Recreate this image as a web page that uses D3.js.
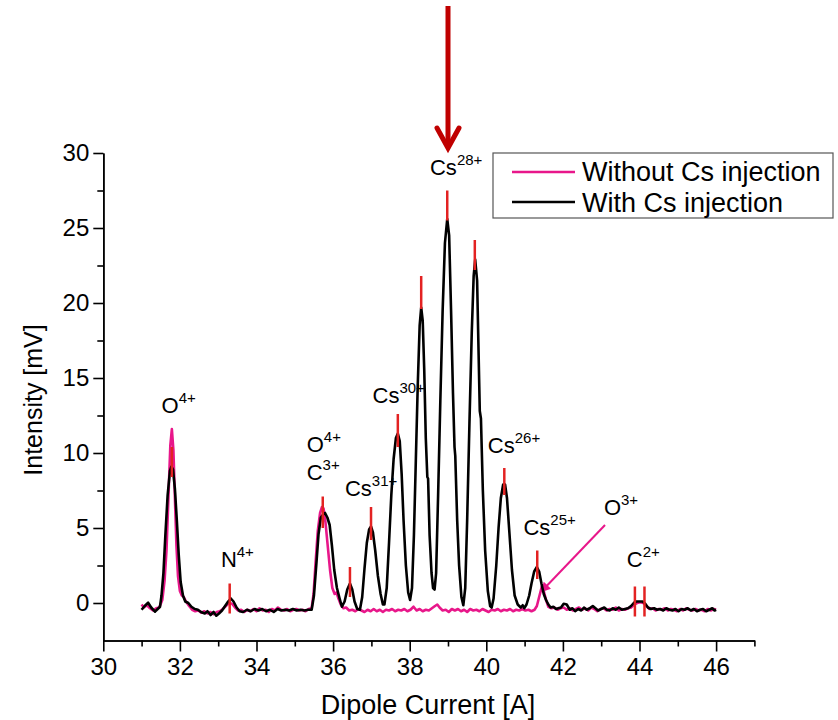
<!DOCTYPE html>
<html>
<head>
<meta charset="utf-8">
<script src="https://cdn.jsdelivr.net/npm/d3@7"></script>
<style>
  body { margin: 0; background: #fff; }
  svg { display: block; font-family: Arial, "Liberation Sans", sans-serif; }
  .axis path, .axis line { stroke: #000; stroke-width: 1.6; }
  .axis text { font-family: Arial, "Liberation Sans", sans-serif; font-size: 24px; fill: #000; }
</style>
</head>
<body>
<div id="chart"></div>
<script>
// with Cs injection (black)
var withCs = [
  [31.00,-0.45],[31.08,-0.2],[31.17,0.02],[31.25,-0.3],[31.35,-0.58],[31.42,-0.4],[31.48,-0.25],
  [31.52,0.5],[31.57,2.0],[31.62,4.5],[31.68,7.2],[31.74,8.8],[31.78,9.1],[31.82,8.9],[31.87,7.6],
  [31.92,5.5],[31.97,3.2],[32.02,1.4],[32.08,0.5],[32.14,0.1],[32.22,0.0],[32.30,-0.25],[32.39,-0.4],
  [32.47,-0.45],[32.55,-0.6],[32.65,-0.7],[32.72,-0.55],[32.80,-0.8],[32.88,-0.6],[32.95,-0.85],
  [33.02,-0.7],[33.10,-0.5],[33.18,-0.2],[33.26,0.1],[33.33,0.3],[33.40,0.1],[33.48,-0.3],[33.56,-0.55],
  [33.65,-0.6],[33.75,-0.45],[33.85,-0.55],[33.95,-0.4],[34.05,-0.5],[34.15,-0.4],[34.25,-0.55],
  [34.35,-0.45],[34.45,-0.6],[34.55,-0.4],[34.65,-0.5],[34.75,-0.45],[34.85,-0.5],[34.95,-0.4],
  [35.05,-0.5],[35.15,-0.45],[35.25,-0.5],[35.35,-0.45],[35.44,-0.45],[35.50,0.5],[35.56,2.5],
  [35.62,4.6],[35.68,5.7],[35.74,5.9],[35.79,6.0],[35.85,5.7],[35.91,5.2],[35.97,3.8],[36.03,2.2],
  [36.10,1.0],[36.17,0.3],[36.23,-0.25],[36.30,0.1],[36.37,0.9],[36.44,1.3],[36.50,0.9],[36.56,0.1],
  [36.63,-0.4],[36.70,-0.45],[36.76,0.4],[36.82,2.3],[36.88,4.0],[36.94,4.9],[36.99,5.1],[37.04,4.7],
  [37.10,3.5],[37.17,1.8],[37.24,0.6],[37.30,-0.1],[37.34,-0.1],[37.40,1.0],[37.46,4.0],[37.52,7.2],
  [37.58,9.6],[37.64,11.0],[37.69,11.3],[37.74,10.8],[37.79,8.6],[37.84,5.5],[37.90,2.5],[37.96,0.7],
  [38.01,0.2],[38.06,1.0],[38.11,4.5],[38.16,9.5],[38.21,14.5],[38.26,18.5],[38.30,19.7],[38.34,18.8],
  [38.38,15.5],[38.42,11.0],[38.46,8.4],[38.48,8.3],[38.52,4.5],[38.57,2.0],[38.61,1.0],[38.65,0.9],
  [38.69,2.0],[38.74,7.0],[38.80,13.5],[38.86,19.5],[38.92,24.0],[38.98,25.6],[39.03,24.5],[39.08,19.5],
  [39.13,14.0],[39.17,10.4],[39.19,9.8],[39.24,5.5],[39.29,2.5],[39.35,0.4],[39.40,-0.15],[39.45,1.0],
  [39.50,5.5],[39.56,12.0],[39.62,18.0],[39.67,21.8],[39.71,22.9],[39.76,21.5],[39.80,16.5],[39.83,12.8],
  [39.86,12.3],[39.91,7.5],[39.97,3.5],[40.04,0.8],[40.10,-0.2],[40.14,-0.3],[40.19,0.3],[40.26,2.5],
  [40.32,5.0],[40.38,7.0],[40.44,7.9],[40.49,7.9],[40.54,7.0],[40.60,4.8],[40.67,2.2],[40.74,0.5],
  [40.82,-0.1],[40.90,-0.3],[40.95,-0.15],[40.99,-0.35],[41.05,-0.1],[41.12,0.5],[41.18,1.3],[41.25,2.1],
  [41.32,2.4],[41.38,2.1],[41.44,1.3],[41.50,0.6],[41.56,0.2],[41.62,-0.1],[41.68,-0.3],[41.75,-0.25],
  [41.82,-0.4],[41.88,-0.35],[41.95,-0.3],[42.02,-0.05],[42.10,-0.1],[42.18,-0.45],[42.25,-0.35],
  [42.32,-0.55],[42.40,-0.4],[42.48,-0.5],[42.55,-0.3],[42.62,-0.45],[42.70,-0.35],[42.78,-0.2],
  [42.85,-0.35],[42.92,-0.5],[43.00,-0.4],[43.08,-0.3],[43.15,-0.45],[43.22,-0.5],[43.30,-0.35],
  [43.38,-0.45],[43.46,-0.3],[43.54,-0.45],[43.62,-0.4],[43.70,-0.35],[43.78,-0.2],[43.85,0.0],
  [43.92,0.1],[44.00,0.1],[44.08,0.1],[44.15,-0.05],[44.22,-0.3],[44.30,-0.4],[44.38,-0.35],[44.46,-0.45],
  [44.54,-0.4],[44.62,-0.5],[44.70,-0.35],[44.78,-0.45],[44.86,-0.5],[44.94,-0.4],[45.02,-0.55],
  [45.10,-0.4],[45.18,-0.45],[45.26,-0.35],[45.34,-0.5],[45.42,-0.4],[45.50,-0.55],[45.58,-0.45],
  [45.66,-0.4],[45.74,-0.55],[45.82,-0.45],[45.90,-0.35],[45.96,-0.5],[46.00,-0.45]
];

// without Cs injection (pink)
var withoutCs = [
  [31.00,-0.1],[31.06,-0.3],[31.14,-0.15],[31.22,-0.35],[31.30,-0.5],[31.38,-0.35],[31.46,-0.3],
  [31.54,0.2],[31.60,1.5],[31.65,3.5],[31.70,7.0],[31.75,10.5],[31.79,11.6],[31.83,10.2],[31.87,7.0],
  [31.91,3.8],[31.95,1.8],[32.00,0.8],[32.05,0.5],[32.10,0.4],[32.16,0.1],[32.24,-0.2],[32.32,-0.45],
  [32.40,-0.55],[32.48,-0.5],[32.56,-0.65],[32.64,-0.55],[32.72,-0.7],[32.80,-0.6],[32.88,-0.75],
  [32.96,-0.6],[33.04,-0.55],[33.12,-0.4],[33.20,-0.2],[33.28,0.0],[33.36,-0.05],[33.44,-0.3],
  [33.52,-0.5],[33.60,-0.45],[33.68,-0.6],[33.76,-0.45],[33.84,-0.55],[33.92,-0.4],[34.00,-0.55],
  [34.08,-0.35],[34.16,-0.5],[34.24,-0.45],[34.32,-0.6],[34.40,-0.4],[34.48,-0.5],[34.56,-0.3],
  [34.64,-0.45],[34.72,-0.5],[34.80,-0.4],[34.88,-0.55],[34.96,-0.45],[35.04,-0.4],[35.12,-0.5],
  [35.20,-0.45],[35.28,-0.55],[35.36,-0.4],[35.44,-0.35],[35.49,0.6],[35.54,2.6],[35.60,4.8],[35.66,6.0],
  [35.71,6.4],[35.75,6.3],[35.80,5.4],[35.86,3.8],[35.92,2.2],[35.98,1.0],[36.04,0.6],[36.09,0.7],
  [36.14,0.3],[36.20,-0.1],[36.27,-0.35],[36.34,-0.3],[36.42,-0.5],[36.50,-0.45],[36.58,-0.55],
  [36.66,-0.4],[36.74,-0.5],[36.82,-0.6],[36.90,-0.45],[36.98,-0.55],[37.06,-0.4],[37.14,-0.55],
  [37.22,-0.45],[37.30,-0.6],[37.38,-0.45],[37.46,-0.5],[37.54,-0.4],[37.62,-0.55],[37.70,-0.45],
  [37.78,-0.5],[37.86,-0.4],[37.94,-0.55],[38.02,-0.45],[38.10,-0.25],[38.18,-0.5],[38.26,-0.4],
  [38.34,-0.55],[38.42,-0.45],[38.50,-0.5],[38.58,-0.35],[38.66,-0.2],[38.72,-0.1],[38.78,-0.3],
  [38.86,-0.5],[38.94,-0.45],[39.02,-0.6],[39.10,-0.4],[39.18,-0.5],[39.26,-0.4],[39.34,-0.55],
  [39.42,-0.45],[39.50,-0.6],[39.58,-0.4],[39.66,-0.5],[39.74,-0.45],[39.82,-0.55],[39.90,-0.4],
  [39.98,-0.5],[40.06,-0.6],[40.14,-0.45],[40.22,-0.5],[40.30,-0.4],[40.38,-0.55],[40.46,-0.45],
  [40.54,-0.5],[40.62,-0.4],[40.70,-0.55],[40.78,-0.45],[40.86,-0.5],[40.94,-0.4],[41.02,-0.5],
  [41.10,-0.45],[41.18,-0.55],[41.26,-0.45],[41.32,-0.2],[41.38,0.4],[41.45,1.1],[41.50,0.8],[41.56,0.2],
  [41.62,-0.25],[41.70,-0.35],[41.78,-0.3],[41.86,-0.45],[41.94,-0.35],[42.02,-0.3],[42.10,-0.45],
  [42.18,-0.35],[42.26,-0.5],[42.34,-0.4],[42.42,-0.3],[42.50,-0.45],[42.58,-0.35],[42.66,-0.5],
  [42.74,-0.3],[42.82,-0.4],[42.90,-0.55],[42.98,-0.4],[43.06,-0.35],[43.14,-0.5],[43.22,-0.4],
  [43.30,-0.45],[43.38,-0.3],[43.46,-0.5],[43.54,-0.4],[43.62,-0.45],[43.70,-0.35],[43.78,-0.3],
  [43.86,-0.1],[43.94,0.0],[44.02,0.05],[44.10,0.0],[44.18,-0.2],[44.26,-0.4],[44.34,-0.35],[44.42,-0.5],
  [44.50,-0.4],[44.58,-0.45],[44.66,-0.35],[44.74,-0.5],[44.82,-0.4],[44.90,-0.45],[44.98,-0.55],
  [45.06,-0.4],[45.14,-0.5],[45.22,-0.35],[45.30,-0.45],[45.38,-0.5],[45.46,-0.4],[45.54,-0.5],
  [45.62,-0.45],[45.70,-0.55],[45.78,-0.4],[45.86,-0.5],[45.94,-0.4],[46.00,-0.45]
];

// red markers: [x, top, bottom]
var peakMarks = [
  [31.79,10.4,8.4],[33.30,1.3,-0.7],[35.73,7.1,5.0],[36.44,2.4,0.4],[36.99,6.4,4.2],[37.69,12.6,10.4],
  [38.30,21.8,19.6],[38.98,27.5,25.5],[39.70,24.2,22.2],[40.47,9.0,7.2],[41.33,3.5,1.6],
  [43.88,1.1,-0.9],[44.13,1.1,-0.9]
];

// ion labels: [element, charge, x, y]
var ionLabels = [
  ["O","4+",31.52,12.64],["N","4+",33.07,2.42],["O","4+",35.31,10.09],["C","3+",35.31,8.2],
  ["Cs","31+",36.31,7.13],["Cs","30+",37.03,13.31],["Cs","28+",38.53,28.53],["Cs","26+",40.04,9.98],
  ["Cs","25+",40.97,4.53],["O","3+",43.07,5.87],["C","2+",43.67,2.42]
];

var o3Pointer = [[43.10,5.2],[41.45,0.8]];

var seriesNames = ["Without Cs injection", "With Cs injection"];
var xTicks = [30,32,34,36,38,40,42,44,46];
var xMinor = [31,33,35,37,39,41,43,45,47];
var yTicks = [0,5,10,15,20,25,30];
var yMinor = [2.5,7.5,12.5,17.5,22.5,27.5];

var W = 838, H = 720;
var pink = "#e8178a", red = "#e32222", dark = "#c00000";

var svg = d3.select('#chart').append('svg')
    .attr('width', W)
    .attr('height', H);

var x = d3.scaleLinear().domain([30, 47]).range([103.3, 754.4]);
var y = d3.scaleLinear().domain([-2.5, 30]).range([640.5, 153]);

// axes
svg.append('g')
    .attr('class', 'axis')
    .attr('transform', 'translate(0,' + y(-2.5) + ')')
    .call(d3.axisBottom(x).tickValues(xTicks).tickSize(11).tickPadding(6).tickSizeOuter(0));
svg.append('g')
    .attr('class', 'axis')
    .attr('transform', 'translate(0,' + y(-2.5) + ')')
    .call(d3.axisBottom(x).tickValues(xMinor).tickSize(6).tickFormat('').tickSizeOuter(0));
svg.append('g')
    .attr('class', 'axis')
    .attr('transform', 'translate(' + x(30) + ',0)')
    .call(d3.axisLeft(y).tickValues(yTicks).tickSize(10).tickPadding(4).tickSizeOuter(0));
svg.append('g')
    .attr('class', 'axis')
    .attr('transform', 'translate(' + x(30) + ',0)')
    .call(d3.axisLeft(y).tickValues(yMinor).tickSize(6).tickFormat('').tickSizeOuter(0));

svg.selectAll('.axis .domain').attr('stroke-width', 2);

svg.append('text')
    .attr('x', 428).attr('y', 714)
    .attr('text-anchor', 'middle')
    .attr('font-size', 27)
    .text('Dipole Current [A]');

svg.append('text')
    .attr('transform', 'translate(42,' + 400 + ') rotate(-90)')
    .attr('text-anchor', 'middle')
    .attr('font-size', 25)
    .text('Intensity [mV]');

// ion labels
var lab = svg.selectAll('.ion').data(ionLabels).enter().append('text')
    .attr('class', 'ion')
    .attr('x', function(d){ return x(d[2]); })
    .attr('y', function(d){ return y(d[3]); })
    .attr('font-size', 22);
lab.append('tspan').text(function(d){ return d[0]; });
lab.append('tspan').attr('font-size', 15).attr('dy', -10).text(function(d){ return d[1]; });

// O3+ pointer
svg.append('defs').append('marker')
    .attr('id', 'pinkHead')
    .attr('viewBox', '0 0 10 10')
    .attr('refX', 8).attr('refY', 5)
    .attr('markerWidth', 5).attr('markerHeight', 5)
    .attr('orient', 'auto')
    .append('path').attr('d', 'M0,0 L10,5 L0,10 z').attr('fill', pink);

svg.append('line')
    .attr('x1', x(o3Pointer[0][0])).attr('y1', y(o3Pointer[0][1]))
    .attr('x2', x(o3Pointer[1][0])).attr('y2', y(o3Pointer[1][1]))
    .attr('stroke', pink).attr('stroke-width', 2)
    .attr('marker-end', 'url(#pinkHead)');

var line = d3.line()
    .x(function(d){ return x(d[0]); })
    .y(function(d){ return y(d[1]); });

svg.append('path').datum(withoutCs)
    .attr('d', line).attr('fill', 'none')
    .attr('stroke', pink).attr('stroke-width', 2.6).attr('stroke-linejoin', 'round');
svg.append('path').datum(withCs)
    .attr('d', line).attr('fill', 'none')
    .attr('stroke', '#000').attr('stroke-width', 2.6).attr('stroke-linejoin', 'round');

svg.selectAll('.mark').data(peakMarks).enter().append('line')
    .attr('class', 'mark')
    .attr('x1', function(d){ return x(d[0]); }).attr('x2', function(d){ return x(d[0]); })
    .attr('y1', function(d){ return y(d[1]); }).attr('y2', function(d){ return y(d[2]); })
    .attr('stroke', red).attr('stroke-width', 2.5);

// big arrow above Cs28+
var ax = x(39.0);
svg.append('line')
    .attr('x1', ax).attr('y1', 6).attr('x2', ax).attr('y2', 146)
    .attr('stroke', dark).attr('stroke-width', 5);
svg.append('polyline')
    .attr('points', (ax - 11) + ',128 ' + ax + ',148 ' + (ax + 11) + ',128')
    .attr('fill', 'none').attr('stroke', dark).attr('stroke-width', 5)
    .attr('stroke-linecap', 'round').attr('stroke-linejoin', 'miter');

// legend
var lg = svg.append('g').attr('transform', 'translate(493,153)');
lg.append('rect')
    .attr('width', 340).attr('height', 65)
    .attr('fill', '#fff').attr('stroke', '#555').attr('stroke-width', 1.2);
lg.selectAll('.lgline').data(seriesNames).enter().append('line')
    .attr('x1', 19).attr('x2', 82)
    .attr('y1', function(d, i){ return 19 + i * 30; })
    .attr('y2', function(d, i){ return 19 + i * 30; })
    .attr('stroke', function(d, i){ return i === 0 ? pink : '#000'; })
    .attr('stroke-width', 2.5);
lg.selectAll('.lgtext').data(seriesNames).enter().append('text')
    .attr('x', 89)
    .attr('y', function(d, i){ return 28 + i * 31; })
    .attr('font-size', 27)
    .text(function(d){ return d; });
</script>
</body>
</html>
